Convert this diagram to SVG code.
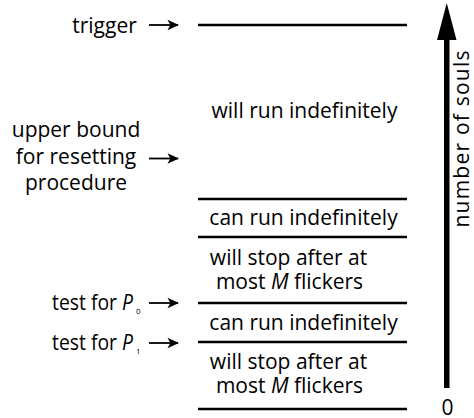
<svg xmlns="http://www.w3.org/2000/svg" width="474" height="418" viewBox="0 0 474 418">
  <style>
    .t { font-family: "Open Sans", "Liberation Sans", sans-serif; font-size: 21px; fill: #000; }
    .m { text-anchor: middle; }
    .sub { font-family: "Open Sans", "Liberation Sans", sans-serif; font-size: 8px; fill: #000; }
    .lvl { stroke: #000; stroke-width: 2.5; fill: none; }
    .con { stroke: #000; stroke-width: 1.8; fill: none; }
  </style>
  <defs>
    <marker id="ah" viewBox="0 0 10 10" refX="9" refY="5" markerWidth="6.5" markerHeight="6.5" orient="auto" markerUnits="strokeWidth">
      <path d="M0,0.5 L10,5 L0,9.5 L2.5,5 Z" fill="#000"/>
    </marker>
  </defs>

  <!-- level lines -->
  <g id="level-trigger"><line class="lvl" x1="198" y1="25" x2="407" y2="25"/></g>
  <g id="level-upper-bound"><line class="lvl" x1="198" y1="199" x2="407" y2="199"/></g>
  <g id="level-mid"><line class="lvl" x1="198" y1="237" x2="407" y2="237"/></g>
  <g id="level-p0"><line class="lvl" x1="198" y1="303" x2="407" y2="303"/></g>
  <g id="level-p1"><line class="lvl" x1="198" y1="342" x2="407" y2="342"/></g>
  <g id="level-zero"><line class="lvl" x1="198" y1="409" x2="407" y2="409"/></g>

  <!-- left labels -->
  <g id="label-trigger"><text class="t m" x="104.5" y="33">trigger</text></g>
  <g id="label-upper-bound">
    <text class="t m" x="76" y="137">upper bound</text>
    <text class="t m" x="76" y="164">for resetting</text>
    <text class="t m" x="76" y="190">procedure</text>
  </g>
  <g id="label-p0">
    <text class="t" x="52" y="310" textLength="81" lengthAdjust="spacingAndGlyphs">test for <tspan font-style="italic">P</tspan></text>
    <text class="sub" x="136" y="314">0</text>
  </g>
  <g id="label-p1">
    <text class="t" x="52" y="350" textLength="81" lengthAdjust="spacingAndGlyphs">test for <tspan font-style="italic">P</tspan></text>
    <text class="sub" x="136" y="354">1</text>
  </g>

  <!-- band labels -->
  <g id="band-will-run"><text class="t m" x="304.5" y="118">will run indefinitely</text></g>
  <g id="band-can-run-1"><text class="t m" x="303.5" y="225">can run indefinitely</text></g>
  <g id="band-will-stop-1">
    <text class="t m" x="288.5" y="265">will stop after at</text>
    <text class="t m" x="289.5" y="289">most <tspan font-style="italic">M</tspan> flickers</text>
  </g>
  <g id="band-can-run-2"><text class="t m" x="303.5" y="330">can run indefinitely</text></g>
  <g id="band-will-stop-2">
    <text class="t m" x="288.5" y="369">will stop after at</text>
    <text class="t m" x="289.5" y="393">most <tspan font-style="italic">M</tspan> flickers</text>
  </g>

  <!-- axis -->
  <g id="axis">
    <rect x="444" y="38" width="5.5" height="350" fill="#000"/>
    <polygon points="446.75,3 437,40 456.5,40" fill="#000"/>
    <text class="t m" x="447.5" y="415">0</text>
    <text class="t m" transform="translate(469,139) rotate(-90)" x="0" y="0" textLength="177" lengthAdjust="spacing">number of souls</text>
  </g>

  <!-- connectors -->
  <g id="connectors">
    <line class="con" x1="149" y1="25" x2="178" y2="25" marker-end="url(#ah)"/>
    <line class="con" x1="149" y1="158.5" x2="178" y2="158.5" marker-end="url(#ah)"/>
    <line class="con" x1="149" y1="303" x2="178" y2="303" marker-end="url(#ah)"/>
    <line class="con" x1="149" y1="343" x2="178" y2="343" marker-end="url(#ah)"/>
  </g>
</svg>
